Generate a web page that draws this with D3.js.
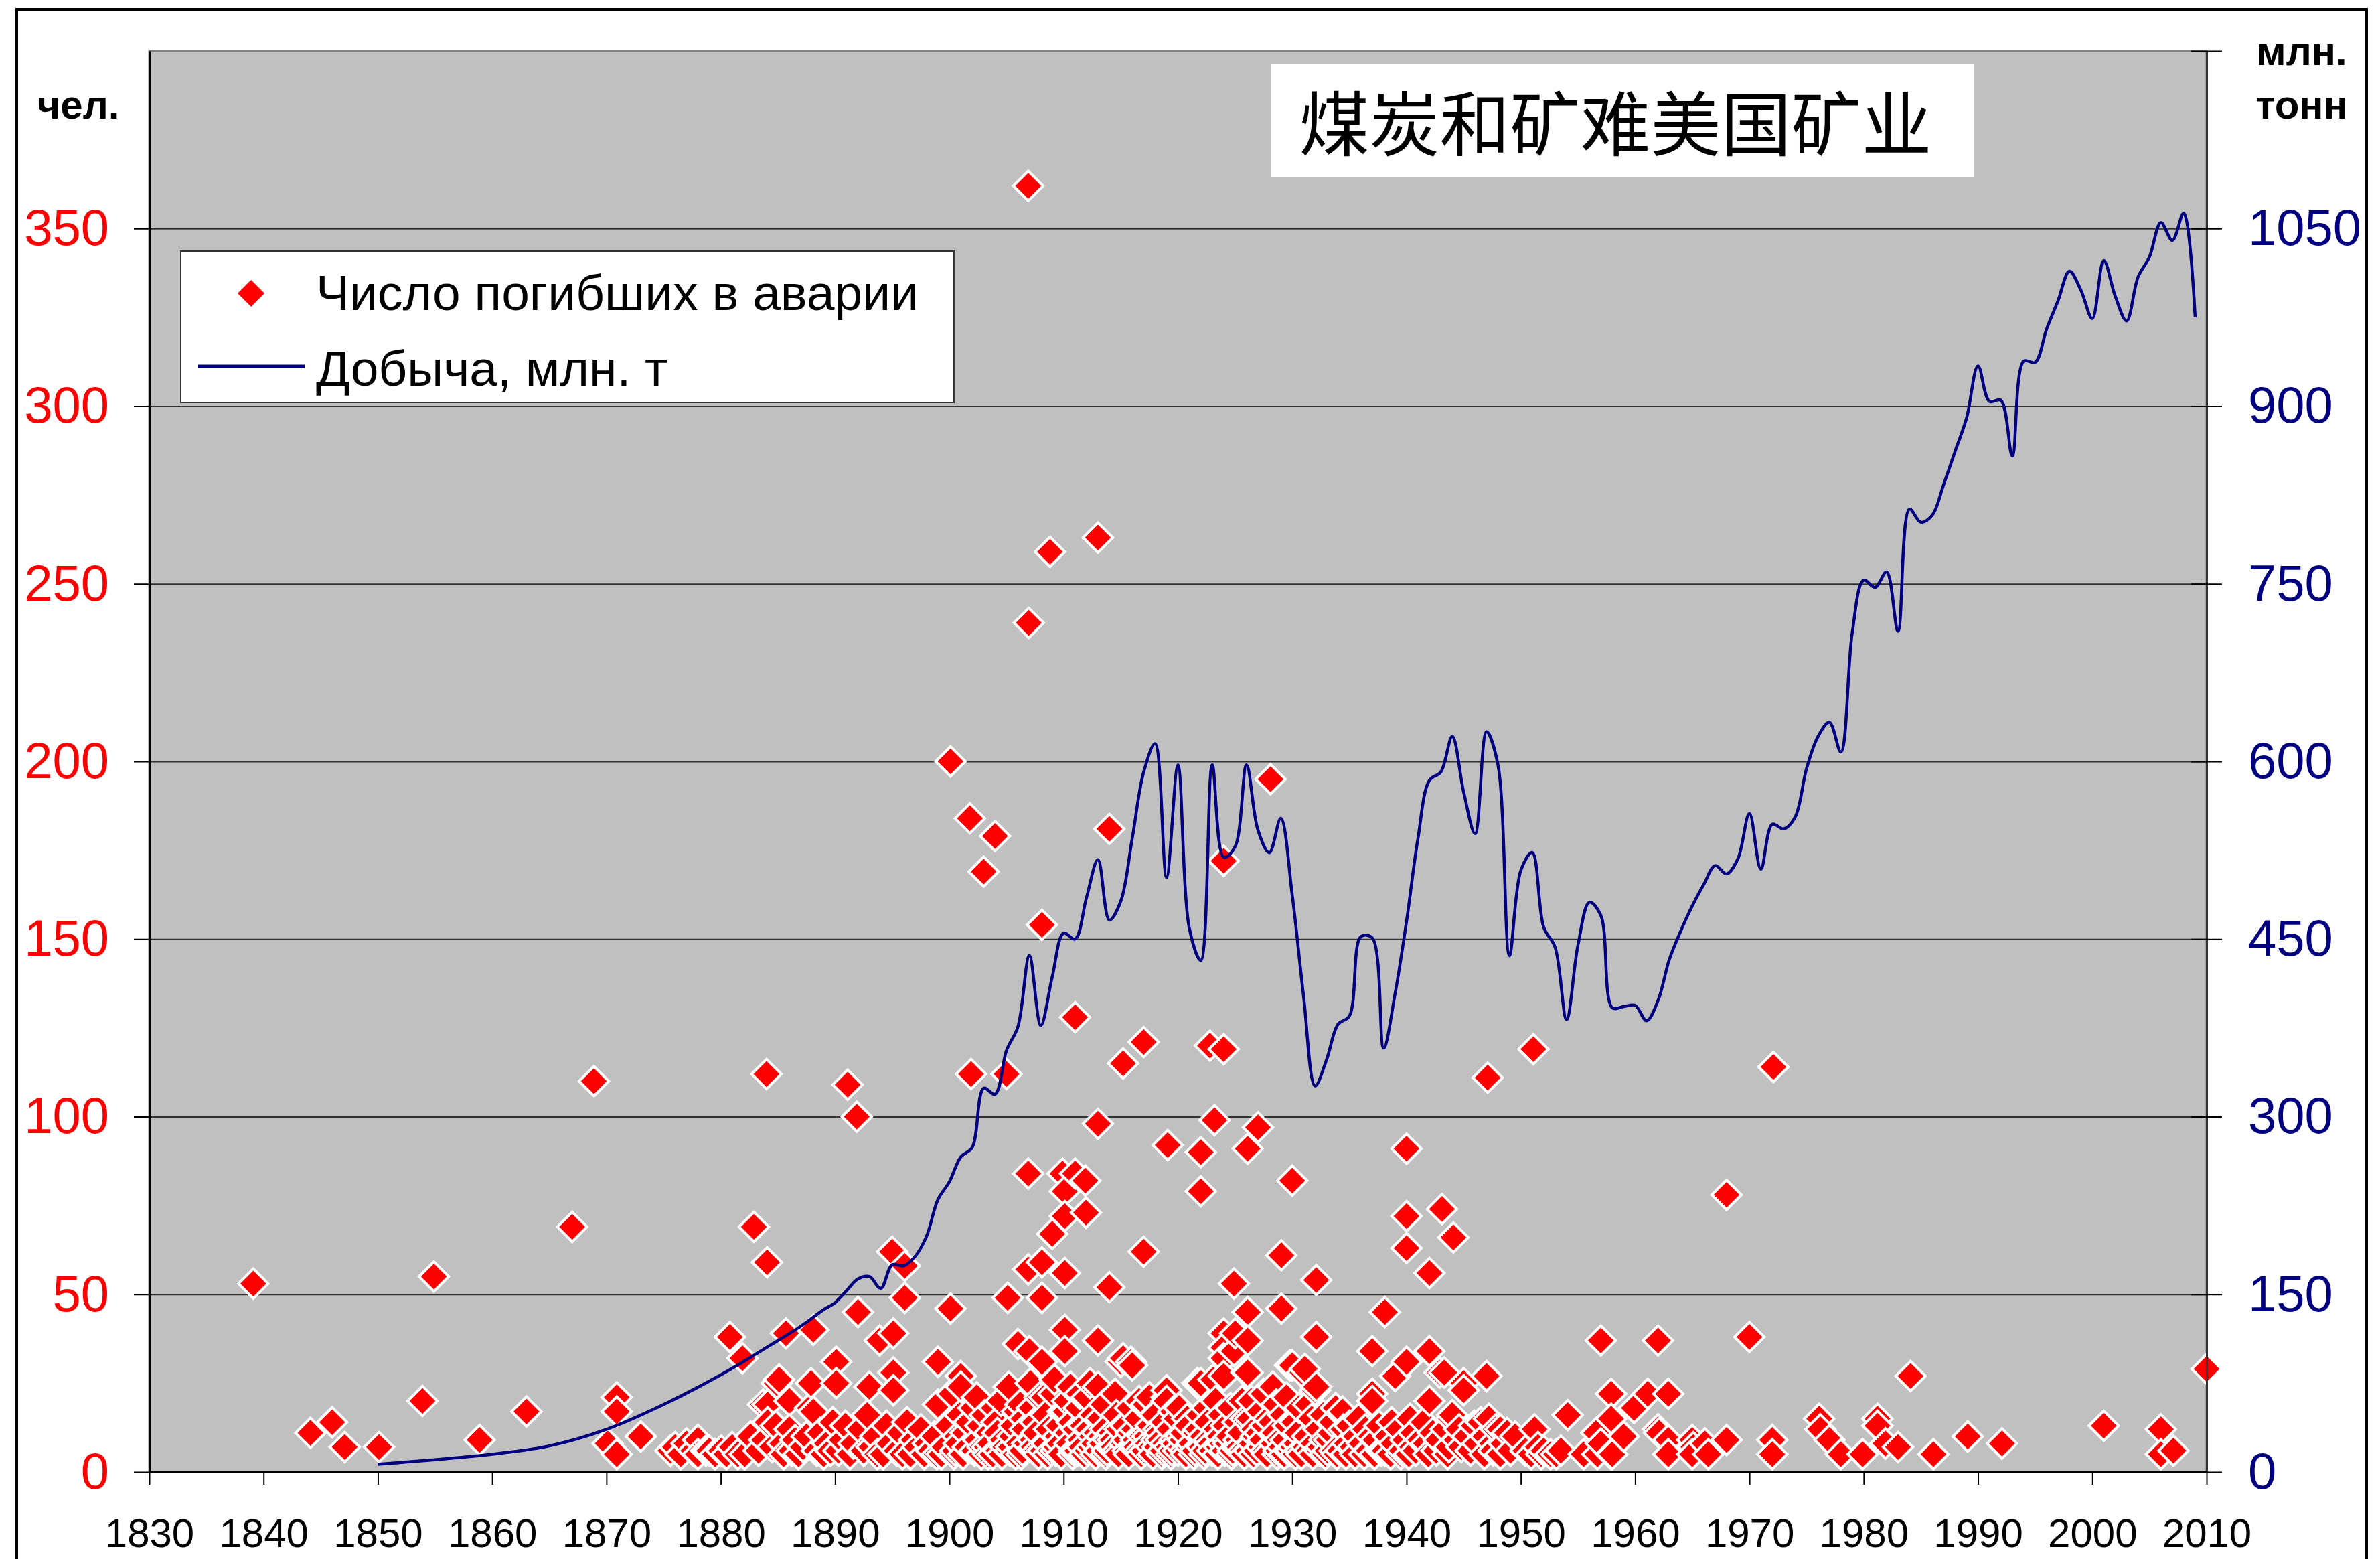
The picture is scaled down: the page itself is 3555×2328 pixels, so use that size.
<!DOCTYPE html>
<html>
<head>
<meta charset="utf-8">
<script src="https://cdn.jsdelivr.net/npm/d3@7"></script>
<style>
  body { margin: 0; background: #fff; }
  text { font-family: "Liberation Sans", Arial, sans-serif; }
</style>
</head>
<body>
<svg id="chart"></svg>
<script>
// chart size and plot box
const width = 3555;
const height = 2328;
const plot = { left: 223, right: 3296, top: 76, bottom: 2198 };

// tick labels
const yearTicks = [1830, 1840, 1850, 1860, 1870, 1880, 1890, 1900, 1910, 1920, 1930,
                   1940, 1950, 1960, 1970, 1980, 1990, 2000, 2010];
const deathTicks = [0, 50, 100, 150, 200, 250, 300, 350];
const tonnesTicks = [0, 150, 300, 450, 600, 750, 900, 1050, 1200];

const titleText = "煤炭和矿难美国矿业";
const legendLabels = ["Число погибших в аварии", "Добыча, млн. т"];

// coal output, mln t  [year, value]
const production = [
  [1850, 6.5], [1860, 15], [1865, 22], [1870, 36], [1875, 57], [1880, 82], [1885, 111],
  [1886, 117], [1887, 123], [1888, 130], [1889, 137],
  [1890, 143], [1891, 153], [1892, 163], [1893, 165], [1894, 155], [1895, 175], [1896, 174],
  [1897, 182], [1898, 199], [1899, 230], [1900, 245], [1901, 266], [1902, 274], [1903, 324],
  [1904, 319], [1905, 356], [1906, 376], [1907, 436], [1908, 377], [1909, 418], [1910, 455],
  [1911, 450], [1912, 485], [1913, 517], [1914, 466], [1915, 482], [1916, 535], [1917, 591],
  [1918, 615], [1919, 502], [1920, 597], [1921, 459], [1922, 432], [1923, 597], [1924, 519],
  [1925, 528], [1926, 597], [1927, 542], [1928, 523], [1929, 552], [1930, 487], [1931, 401],
  [1932, 326], [1933, 348], [1934, 378], [1935, 385], [1936, 452], [1937, 451], [1938, 358],
  [1939, 404], [1940, 465], [1941, 535], [1942, 584], [1943, 591], [1944, 621], [1945, 574],
  [1946, 539], [1947, 625], [1948, 597], [1949, 436], [1950, 508], [1951, 523], [1952, 460],
  [1953, 443], [1954, 382], [1955, 445], [1956, 481], [1957, 470], [1958, 392], [1959, 393],
  [1960, 394], [1961, 381], [1962, 398], [1963, 433], [1964, 457], [1965, 478], [1966, 496],
  [1967, 512], [1968, 505], [1969, 518], [1970, 556], [1971, 509], [1972, 547], [1973, 543],
  [1974, 553], [1975, 594], [1976, 621], [1977, 633], [1978, 608], [1979, 709], [1980, 753],
  [1981, 747], [1982, 760], [1983, 710], [1984, 813], [1985, 802], [1986, 808], [1987, 834],
  [1988, 862], [1989, 890], [1990, 934], [1991, 904], [1992, 905], [1993, 858], [1994, 938],
  [1995, 937], [1996, 965], [1997, 989], [1998, 1014], [1999, 998], [2000, 974], [2001, 1023],
  [2002, 993], [2003, 972], [2004, 1009], [2005, 1026], [2006, 1055], [2007, 1040],
  [2008, 1063], [2009, 975]
];

// mine disasters  [date as year, deaths]
const disasters1800s = [
  [1839.1, 53], [1844.1, 11], [1846.0, 14], [1847.1, 7], [1850.1, 7], [1853.9, 20], [1854.9, 55],
  [1858.9, 9], [1863.0, 17], [1867.0, 69], [1868.9, 110],
  [1870.1, 8], [1870.9, 21], [1870.9, 17], [1870.9, 5], [1873.0, 10],
  [1875.6, 6], [1876.0, 7], [1876.5, 5], [1877.0, 8], [1877.6, 6], [1878.0, 9], [1878.0, 5],
  [1878.7, 6], [1879.0, 6], [1879.5, 5], [1880.05, 6], [1880.5, 5], [1880.8, 38], [1881.0, 7],
  [1881.5, 5], [1881.9, 32], [1882.1, 5], [1882.6, 10], [1882.9, 69], [1883.3, 6], [1883.7, 19],
  [1883.8, 9], [1884.0, 112], [1884.05, 59], [1884.1, 19], [1884.1, 14], [1884.5, 7], [1884.8, 13],
  [1884.9, 25], [1885.1, 26], [1885.4, 8], [1885.5, 5], [1885.7, 39], [1886.0, 20], [1886.0, 12],
  [1886.2, 6], [1886.5, 9], [1886.8, 5], [1887.2, 7], [1887.5, 10], [1887.8, 18], [1887.9, 25],
  [1888.1, 40], [1888.1, 17], [1888.4, 6], [1888.7, 11], [1889.0, 5], [1889.3, 8], [1889.6, 6],
  [1889.8, 14],
  [1890.1, 31], [1890.1, 25], [1890.3, 6], [1890.6, 9], [1890.9, 13], [1891.1, 109], [1891.3, 5],
  [1891.6, 8], [1891.9, 100], [1892.0, 45], [1892.2, 12], [1892.5, 6], [1892.8, 16], [1893.0, 24],
  [1893.2, 7], [1893.5, 10], [1893.7, 5], [1893.9, 37], [1894.2, 5], [1894.5, 13], [1894.8, 8],
  [1895.0, 62], [1895.1, 39], [1895.1, 28], [1895.1, 23], [1895.4, 6], [1895.7, 11], [1895.9, 5],
  [1896.1, 58], [1896.1, 49], [1896.3, 14], [1896.6, 5], [1896.9, 9], [1897.2, 7], [1897.5, 12],
  [1897.8, 5], [1898.1, 8], [1898.4, 6], [1898.7, 10], [1898.9, 5], [1899.0, 31], [1899.0, 19],
  [1899.3, 5], [1899.6, 7], [1899.9, 13]
];

const disasters1900s = [
  [1900.1, 200], [1900.1, 46], [1900.2, 22], [1900.4, 5], [1900.5, 6], [1900.7, 10], [1900.8, 8],
  [1900.9, 16], [1901.0, 27], [1901.0, 24], [1901.2, 5], [1901.4, 11], [1901.6, 7], [1901.8, 184],
  [1901.9, 112], [1901.7, 14], [1902.1, 18], [1902.2, 6], [1902.4, 21], [1902.5, 9], [1902.7, 13],
  [1902.8, 5], [1902.9, 7], [1903.0, 169], [1903.1, 16], [1903.3, 7], [1903.4, 5], [1903.5, 11],
  [1903.6, 8], [1903.8, 5], [1903.9, 18], [1904.0, 179], [1904.1, 14], [1904.2, 11], [1904.3, 6],
  [1904.5, 20], [1904.6, 5], [1904.7, 9], [1904.9, 7], [1905.0, 112], [1905.1, 49], [1905.2, 24],
  [1905.3, 6], [1905.4, 7], [1905.5, 10], [1905.6, 13], [1905.8, 5], [1905.9, 17], [1906.0, 36],
  [1906.1, 8], [1906.2, 19], [1906.3, 5], [1906.4, 6], [1906.5, 15], [1906.6, 12], [1906.8, 8],
  [1906.9, 57], [1906.9, 362], [1906.95, 239], [1906.9, 84], [1907.0, 34], [1907.1, 25],
  [1907.2, 18], [1907.3, 9], [1907.4, 7], [1907.5, 14], [1907.6, 11], [1907.7, 6], [1907.8, 5],
  [1907.9, 21], [1908.1, 154], [1908.1, 59], [1908.1, 49], [1908.1, 31], [1908.2, 6], [1908.3, 21],
  [1908.4, 16], [1908.5, 8], [1908.6, 5], [1908.7, 12], [1908.8, 259], [1908.9, 6], [1909.0, 67],
  [1909.1, 22], [1909.2, 26], [1909.3, 6], [1909.4, 7], [1909.5, 10], [1909.6, 13], [1909.7, 8],
  [1909.8, 5], [1909.9, 17], [1909.9, 84]
];

const disasters1910s = [
  [1910.1, 79], [1910.1, 72], [1910.1, 56], [1910.1, 40], [1910.1, 34], [1910.2, 17], [1910.3, 20],
  [1910.4, 11], [1910.5, 8], [1910.6, 24], [1910.7, 14], [1910.8, 5], [1910.9, 6], [1911.0, 128],
  [1911.0, 84], [1911.1, 12], [1911.2, 6], [1911.3, 18], [1911.4, 22], [1911.5, 9], [1911.6, 7],
  [1911.7, 13], [1911.8, 5], [1911.9, 82], [1911.95, 73], [1912.0, 21], [1912.1, 6], [1912.2, 12],
  [1912.3, 25], [1912.4, 7], [1912.5, 10], [1912.6, 16], [1912.7, 8], [1912.8, 5], [1912.9, 11],
  [1913.0, 263], [1913.0, 98], [1913.0, 37], [1913.0, 24], [1913.1, 6], [1913.2, 15], [1913.3, 10],
  [1913.4, 8], [1913.5, 19], [1913.6, 12], [1913.7, 5], [1913.8, 6], [1913.9, 9], [1914.0, 181],
  [1914.0, 52], [1914.1, 7], [1914.2, 11], [1914.3, 9], [1914.4, 7], [1914.5, 22], [1914.6, 16],
  [1914.7, 6], [1914.8, 5], [1914.9, 12], [1915.0, 31], [1915.2, 115], [1915.2, 32], [1915.3, 8],
  [1915.4, 13], [1915.5, 9], [1915.6, 6], [1915.7, 5], [1915.8, 18], [1915.9, 31], [1915.9, 11],
  [1916.0, 30], [1916.1, 7], [1916.2, 12], [1916.3, 9], [1916.4, 7], [1916.5, 15], [1916.6, 20],
  [1916.7, 6], [1916.8, 5], [1916.9, 10], [1917.0, 121], [1917.0, 62], [1917.1, 6], [1917.2, 19],
  [1917.3, 10], [1917.4, 8], [1917.5, 21], [1917.6, 13], [1917.7, 7], [1917.8, 5], [1917.9, 16],
  [1918.0, 16], [1918.1, 9], [1918.2, 7], [1918.3, 12], [1918.4, 11], [1918.5, 9], [1918.6, 5],
  [1918.7, 6], [1918.8, 14], [1918.9, 8], [1919.0, 21], [1919.0, 23], [1919.0, 20], [1919.1, 92],
  [1919.2, 7], [1919.3, 12], [1919.4, 5], [1919.5, 6], [1919.6, 17], [1919.7, 9], [1919.8, 8],
  [1919.9, 15]
];

const disasters1920s = [
  [1920.0, 6], [1920.1, 18], [1920.2, 10], [1920.3, 7], [1920.4, 9], [1920.5, 11], [1920.6, 6],
  [1920.7, 5], [1920.8, 15], [1920.9, 13], [1921.1, 7], [1921.2, 8], [1921.4, 5], [1921.5, 6],
  [1921.6, 11], [1921.7, 25], [1921.8, 12], [1921.9, 16], [1922.0, 90], [1922.0, 79], [1922.0, 25],
  [1922.1, 7], [1922.2, 10], [1922.3, 5], [1922.4, 6], [1922.5, 18], [1922.6, 14], [1922.7, 9],
  [1922.8, 120], [1922.9, 8], [1923.0, 6], [1923.1, 26], [1923.2, 99], [1923.3, 20], [1923.4, 12],
  [1923.5, 5], [1923.6, 7], [1923.7, 10], [1923.8, 16], [1923.9, 8], [1924.0, 172], [1924.0, 119],
  [1924.0, 39], [1924.0, 35], [1924.0, 32], [1924.0, 27], [1924.1, 6], [1924.2, 13], [1924.3, 9],
  [1924.4, 8], [1924.5, 10], [1924.6, 18], [1924.7, 5], [1924.8, 6], [1924.9, 53], [1924.9, 34],
  [1925.0, 39], [1925.1, 7], [1925.2, 14], [1925.3, 9], [1925.4, 7], [1925.5, 11], [1925.6, 20],
  [1925.7, 6], [1925.8, 5], [1925.9, 15], [1926.0, 28], [1926.1, 91], [1926.1, 45], [1926.1, 37],
  [1926.1, 28], [1926.2, 6], [1926.3, 15], [1926.4, 20], [1926.5, 8], [1926.6, 5], [1926.7, 12],
  [1926.8, 10], [1926.9, 6], [1927.0, 97], [1927.1, 11], [1927.2, 17], [1927.3, 7], [1927.4, 9],
  [1927.5, 22], [1927.6, 13], [1927.7, 6], [1927.8, 5], [1927.9, 15], [1928.1, 195], [1928.2, 14],
  [1928.3, 24], [1928.4, 8], [1928.5, 11], [1928.6, 19], [1928.7, 5], [1928.8, 6], [1928.9, 9],
  [1929.05, 61], [1929.05, 46], [1929.1, 7], [1929.2, 16], [1929.3, 5], [1929.4, 9], [1929.5, 21],
  [1929.6, 13], [1929.7, 6], [1929.8, 30], [1929.9, 6]
];

const disasters1930s = [
  [1930.0, 82], [1930.0, 30], [1930.1, 7], [1930.2, 14], [1930.3, 5], [1930.4, 8], [1930.5, 11],
  [1930.6, 18], [1930.7, 6], [1930.8, 5], [1930.9, 28], [1931.1, 29], [1931.2, 7], [1931.3, 10],
  [1931.4, 19], [1931.5, 6], [1931.7, 15], [1931.8, 5], [1931.9, 8], [1932.0, 23], [1932.1, 54],
  [1932.1, 38], [1932.1, 24], [1932.3, 12], [1932.4, 6], [1932.5, 7], [1932.7, 16], [1932.8, 9],
  [1932.9, 5], [1933.1, 6], [1933.2, 9], [1933.4, 11], [1933.5, 14], [1933.7, 6], [1933.8, 18],
  [1933.9, 5], [1934.2, 6], [1934.4, 17], [1934.5, 12], [1934.7, 5], [1934.8, 8], [1935.0, 13],
  [1935.3, 7], [1935.5, 5], [1935.6, 10], [1935.8, 15], [1936.1, 8], [1936.3, 5], [1936.4, 12],
  [1936.7, 6], [1936.9, 10], [1937.0, 34], [1937.0, 22], [1937.0, 20], [1937.2, 5], [1937.3, 9],
  [1937.6, 13], [1937.8, 6], [1938.1, 45], [1938.1, 6], [1938.4, 10], [1938.6, 5], [1938.7, 14],
  [1938.9, 8], [1939.0, 27], [1939.3, 12], [1939.5, 5], [1939.6, 6], [1939.9, 9]
];

const disasters1940s = [
  [1940.0, 91], [1940.0, 72], [1940.0, 63], [1940.0, 31], [1940.2, 5], [1940.3, 15], [1940.5, 7],
  [1940.6, 11], [1940.8, 6], [1941.2, 9], [1941.5, 14], [1941.7, 8], [1941.9, 5], [1942.0, 56],
  [1942.0, 34], [1942.0, 20], [1942.3, 11], [1942.6, 6], [1942.8, 9], [1942.9, 28], [1943.1, 74],
  [1943.3, 28], [1943.4, 12], [1943.6, 5], [1943.7, 7], [1943.9, 15], [1944.0, 16], [1944.1, 66],
  [1944.4, 9], [1944.6, 12], [1944.8, 7], [1945.0, 25], [1945.0, 23], [1945.3, 10], [1945.6, 6],
  [1945.9, 13], [1946.2, 8], [1946.5, 14], [1946.8, 5], [1946.9, 10], [1947.0, 27], [1947.1, 111],
  [1947.2, 15], [1947.5, 8], [1947.6, 6], [1947.8, 12], [1948.2, 12], [1948.2, 5], [1948.5, 8],
  [1948.8, 11], [1949.1, 6], [1949.5, 10]
];

const disastersLater = [
  [1950.4, 6], [1950.9, 5], [1951.1, 119], [1951.2, 12], [1951.5, 7], [1951.8, 5], [1952.0, 6],
  [1952.6, 5], [1953.1, 5], [1953.5, 6], [1954.1, 16], [1955.5, 5], [1956.6, 11], [1956.7, 5],
  [1957.0, 37], [1957.0, 8], [1957.9, 22], [1957.9, 15], [1957.9, 5], [1958.0, 5], [1959.0, 10],
  [1959.9, 18], [1961.1, 22], [1962.0, 37], [1962.0, 12], [1962.1, 11], [1962.9, 22], [1962.9, 9],
  [1962.9, 5], [1965.0, 9], [1965.1, 7], [1965.0, 5], [1966.1, 8], [1966.4, 5], [1968.0, 78],
  [1968.0, 9], [1970.0, 38], [1972.0, 9], [1972.0, 5], [1972.1, 114], [1976.1, 15], [1976.2, 12],
  [1977.0, 9], [1978.0, 5], [1979.9, 5], [1981.2, 15], [1981.2, 13], [1981.9, 8], [1983.0, 7],
  [1984.1, 27], [1986.1, 5], [1989.1, 10], [1992.1, 8], [2001.0, 13], [2006.0, 12], [2006.0, 5],
  [2007.1, 6], [2010.0, 29]
];

const disasters = disasters1800s.concat(disasters1900s, disasters1910s, disasters1920s,
                                        disasters1930s, disasters1940s, disastersLater);

const svg = d3.select('#chart')
    .attr('width', width)
    .attr('height', height);

svg.append('rect')
    .attr('width', width)
    .attr('height', height)
    .attr('fill', '#fff');

// outer frame (its bottom runs off the picture)
svg.append('path')
    .attr('d', `M25,${height + 10} V14 H3535 V${height + 10}`)
    .attr('fill', 'none')
    .attr('stroke', '#000')
    .attr('stroke-width', 4);

const xScale = d3.scaleLinear().domain([1830, 2010]).range([plot.left, plot.right]);
const yLeft = d3.scaleLinear().domain([0, 400]).range([plot.bottom, plot.top]);
const yRight = d3.scaleLinear().domain([0, 1200]).range([plot.bottom, plot.top]);

// plot area
svg.append('rect')
    .attr('x', plot.left)
    .attr('y', plot.top)
    .attr('width', plot.right - plot.left)
    .attr('height', plot.bottom - plot.top)
    .attr('fill', '#c0c0c0')
    .attr('stroke', '#808080')
    .attr('stroke-width', 3);

// gridlines
svg.append('g')
    .attr('transform', `translate(${plot.left},0)`)
    .call(d3.axisLeft(yLeft).tickValues(deathTicks.slice(1)).tickSize(-(plot.right - plot.left)).tickFormat(''))
    .call(g => g.select('.domain').remove())
    .selectAll('line')
    .attr('stroke', '#333')
    .attr('stroke-width', 2);

// title box
svg.append('rect')
    .attr('x', 1898).attr('y', 96)
    .attr('width', 1050).attr('height', 168)
    .attr('fill', '#fff');

svg.append('text')
    .attr('x', 2413)
    .attr('y', 178)
    .attr('text-anchor', 'middle')
    .attr('dominant-baseline', 'central')
    .style('font-family', '"Noto Sans CJK SC", sans-serif')
    .style('font-size', '105px')
    .attr('fill', '#000')
    .text(titleText);

// legend
svg.append('rect')
    .attr('x', 270).attr('y', 375)
    .attr('width', 1155).attr('height', 226)
    .attr('fill', '#fff')
    .attr('stroke', '#333')
    .attr('stroke-width', 2);

const legendDiamond = d3.symbol().type(d3.symbolSquare).size(800);
const diamond = d3.symbol().type(d3.symbolSquare).size(980);

svg.append('path')
    .attr('d', legendDiamond)
    .attr('transform', 'translate(375,438) rotate(45)')
    .attr('fill', '#ff0000');

svg.append('line')
    .attr('x1', 296).attr('x2', 455)
    .attr('y1', 547).attr('y2', 547)
    .attr('stroke', '#000080')
    .attr('stroke-width', 5);

svg.selectAll('.legend-label')
    .data(legendLabels)
    .enter()
    .append('text')
    .attr('class', 'legend-label')
    .attr('x', 472)
    .attr('y', (d, i) => i === 0 ? 463 : 576)
    .style('font-size', '75px')
    .attr('fill', '#000')
    .text(d => d);

// death points
svg.append('g')
    .selectAll('path')
    .data(disasters)
    .enter()
    .append('path')
    .attr('d', diamond)
    .attr('transform', d => `translate(${xScale(d[0])},${yLeft(d[1])}) rotate(45)`)
    .attr('fill', '#ff0000')
    .attr('stroke', '#fff')
    .attr('stroke-width', 4);

// production line
const line = d3.line()
    .x(d => xScale(d[0]))
    .y(d => yRight(d[1]))
    .curve(d3.curveCatmullRom.alpha(0.5));

svg.append('path')
    .datum(production)
    .attr('d', line)
    .attr('fill', 'none')
    .attr('stroke', '#000080')
    .attr('stroke-width', 4.5)
    .attr('stroke-linejoin', 'round');

// left axis
const leftAxis = svg.append('g')
    .attr('transform', `translate(${plot.left},0)`)
    .call(d3.axisLeft(yLeft).tickValues(deathTicks).tickSize(23).tickSizeOuter(0).tickPadding(37));
leftAxis.select('.domain').attr('stroke', '#000').attr('stroke-width', 3);
leftAxis.selectAll('line').attr('stroke', '#000').attr('stroke-width', 2);
leftAxis.selectAll('text')
    .attr('fill', '#ff0000')
    .style('font-size', '76px')
    .style('font-family', '"Liberation Sans", Arial, sans-serif');

// right axis
const rightAxis = svg.append('g')
    .attr('transform', `translate(${plot.right},0)`)
    .call(d3.axisRight(yRight).tickValues(tonnesTicks).tickSize(23).tickSizeOuter(0).tickPadding(39)
        .tickFormat(d => d === 1200 ? '' : d));
rightAxis.select('.domain').attr('stroke', '#333').attr('stroke-width', 3);
rightAxis.selectAll('line').attr('x1', -23).attr('stroke', '#000').attr('stroke-width', 2);
rightAxis.selectAll('text')
    .attr('fill', '#000080')
    .style('font-size', '76px')
    .style('font-family', '"Liberation Sans", Arial, sans-serif');

// bottom axis
const bottomAxis = svg.append('g')
    .attr('transform', `translate(0,${plot.bottom})`)
    .call(d3.axisBottom(xScale).tickValues(yearTicks).tickSize(19).tickSizeOuter(0).tickPadding(50)
        .tickFormat(d3.format('d')));
bottomAxis.select('.domain').attr('stroke', '#000').attr('stroke-width', 3);
bottomAxis.selectAll('line').attr('stroke', '#000').attr('stroke-width', 2);
bottomAxis.selectAll('text')
    .attr('fill', '#000')
    .style('font-size', '60px')
    .style('font-family', '"Liberation Sans", Arial, sans-serif');

// unit labels
svg.append('text')
    .attr('x', 117).attr('y', 177)
    .attr('text-anchor', 'middle')
    .style('font-size', '60px')
    .style('font-weight', 'bold')
    .text('чел.');

svg.selectAll('.unit-right')
    .data(['млн.', 'тонн'])
    .enter()
    .append('text')
    .attr('class', 'unit-right')
    .attr('x', 3438)
    .attr('y', (d, i) => i === 0 ? 97 : 177)
    .attr('text-anchor', 'middle')
    .style('font-size', '60px')
    .style('font-weight', 'bold')
    .text(d => d);
</script>
</body>
</html>
